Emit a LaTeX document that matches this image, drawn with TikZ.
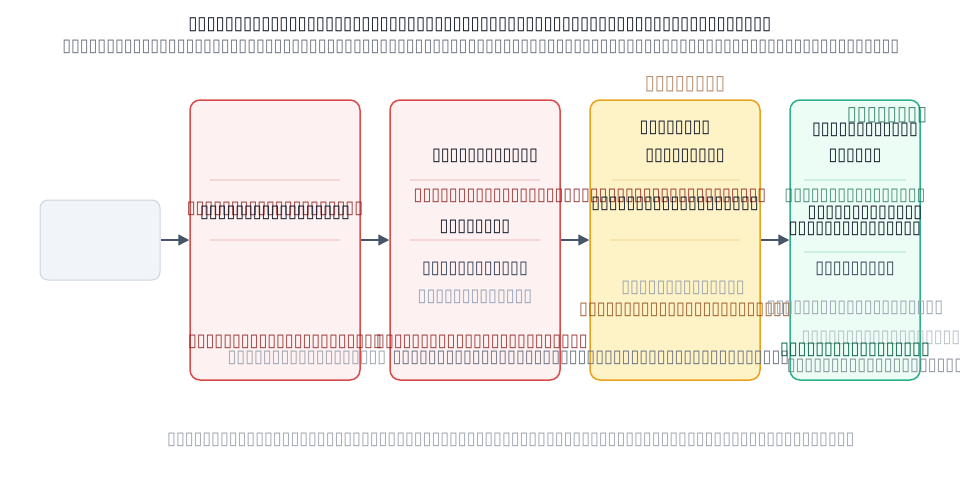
\documentclass[tikz,border=0pt]{standalone}
\usepackage{fontspec}
\usepackage{tikz}
\usetikzlibrary{arrows.meta}
\newfontfamily\tofufont[FakeStretch=0.9]{DejaVu Sans}
\newcommand\tofu[1]{\foreach\k in {1,...,#1}{▯}}
\definecolor{ink}{HTML}{111827}
\definecolor{mute}{HTML}{6B7280}
\definecolor{pale}{HTML}{9CA3AF}
\definecolor{slate}{HTML}{334155}
\definecolor{bluegray}{HTML}{94A3B8}
\definecolor{arrowc}{HTML}{475569}
\definecolor{srcfill}{HTML}{F1F5F9}
\definecolor{srcline}{HTML}{CBD5E1}
\definecolor{redline}{HTML}{D94B4B}
\definecolor{redfill}{HTML}{FEF1F1}
\definecolor{redsep}{HTML}{F6D5D5}
\definecolor{redtxt}{HTML}{8B1A1A}
\definecolor{yelline}{HTML}{E8A21E}
\definecolor{yelfill}{HTML}{FEF3C7}
\definecolor{yelsep}{HTML}{F7E4AE}
\definecolor{browntxt}{HTML}{8B4513}
\definecolor{grnline}{HTML}{2BB08A}
\definecolor{grnfill}{HTML}{ECFDF5}
\definecolor{grnsep}{HTML}{CDEEE0}
\definecolor{grntxt}{HTML}{065F46}

\begin{document}
\begin{tikzpicture}[x=1pt, y=-1pt, >=Stealth,
    tx/.style={font=\tofufont\fontsize{#1}{#1}\selectfont, inner sep=0pt},
    tb/.style={font=\tofufont\bfseries\fontsize{#1}{#1}\selectfont, inner sep=0pt},
    stagebox/.style={draw, rounded corners=10pt, line width=1.5pt,
        minimum width=170pt, minimum height=280pt, inner sep=0pt},
    flow/.style={->, >={Triangle[length=11pt, width=11pt]}, line width=1.5pt, arrowc},
    sepline/.style={line width=1.2pt}]
    \useasboundingbox (0,0) rectangle (960,480);

    % Headings
    \node[tb=18.4, ink] (title) at (480,25) {\tofu{64}};
    \node[tx=17.8, mute] (subtitle) at (481,47) {\tofu{95}};

    % Source and stages
    \node[draw=srcline, fill=srcfill, rounded corners=8pt, line width=1pt,
        minimum width=120pt, minimum height=80pt] (src) at (100,240) {};
    \node[stagebox, draw=redline, fill=redfill] (s1) at (275,240) {};
    \node[stagebox, draw=redline, fill=redfill] (s2) at (475,240) {};
    \node[stagebox, draw=yelline, fill=yelfill] (s3) at (675,240) {};
    \node[stagebox, draw=grnline, fill=grnfill, minimum width=130pt] (s4) at (855,240) {};
    \draw[flow] (src.east) -- (s1.west);
    \draw[flow] (s1.east) -- (s2.west);
    \draw[flow] (s2.east) -- (s3.west);
    \draw[flow] (s3.east) -- (s4.west);

    % Separators
    \draw[sepline, redsep] (210,180) -- (340,180) (210,240) -- (340,240);
    \draw[sepline, redsep] (410,180) -- (540,180) (410,240) -- (540,240);
    \draw[sepline, yelsep] (612,180) -- (740,180) (610,240) -- (740,240);
    \draw[sepline, grnsep] (804,180) -- (906,180) (804,252) -- (906,252);

    % Stage 1
    \node[tx=17.8, redtxt, opacity=.85] (a1) at (275,209) {\tofu{20}};
    \node[tx=17.8, ink] (a2) at (275,213) {\tofu{17}};
    \node[tx=17.8, redtxt, opacity=.85] (a3) at (285,342) {\tofu{22}};
    \node[tx=17.8, pale] (a4) at (307,358) {\tofu{18}};

    % Stage 2
    \node[tx=17.8, ink] (b1) at (485,156) {\tofu{12}};
    \node[tx=17.8, redtxt, opacity=.85] (b2) at (590,196) {\tofu{40}};
    \node[tx=17.8, ink] (b3) at (475,227) {\tofu{8}};
    \node[tx=17.8, slate] (b4) at (475,269) {\tofu{12}};
    \node[tx=17.8, bluegray] (b5) at (475,297) {\tofu{13}};
    \node[tx=17.8, redtxt, opacity=.85] (b6) at (482,342) {\tofu{24}};
    \node[tx=17.8, mute] (b7) at (591,358) {\tofu{45}};

    % Stage 3
    \node[tb=20.3, browntxt, opacity=.6] (c0) at (685,84) {\tofu{8}};
    \node[tx=17.8, ink] (c1) at (675,128) {\tofu{8}};
    \node[tx=17.8, ink] (c2) at (685,156) {\tofu{9}};
    \node[tx=17.8, ink] (c3) at (675,204) {\tofu{19}};
    \node[tx=17.8, pale] (c4) at (683,288) {\tofu{14}};
    \node[tx=17.8, browntxt, opacity=.85] (c5) at (685,310) {\tofu{24}};

    % Stage 4
    \node[tb=20.3, grntxt, opacity=.7] (d0) at (887,115) {\tofu{8}};
    \node[tx=17.8, ink] (d1) at (865,130) {\tofu{12}};
    \node[tx=17.8, ink] (d2) at (855,156) {\tofu{6}};
    \node[tx=17.8, grntxt, opacity=.7] (d3) at (855,196) {\tofu{16}};
    \node[tx=17.8, ink] (d4) at (865,213) {\tofu{13}};
    \node[tx=17.8, ink] (d5) at (855,229) {\tofu{15}};
    \node[tx=17.8, slate] (d6) at (855,269) {\tofu{9}};
    \node[tx=17.8, pale] (d7) at (855,308) {\tofu{20}};
    \node[tx=17.8, pale, opacity=.7] (d8) at (881,338) {\tofu{18}};
    \node[tx=17.8, grntxt] (d9) at (855,350) {\tofu{17}};
    \node[tx=17.8, mute, opacity=.8] (d10) at (875,366) {\tofu{20}};

    % Footer
    \node[tx=17.8, pale] (note) at (511,440) {\tofu{78}};
\end{tikzpicture}
\end{document}
